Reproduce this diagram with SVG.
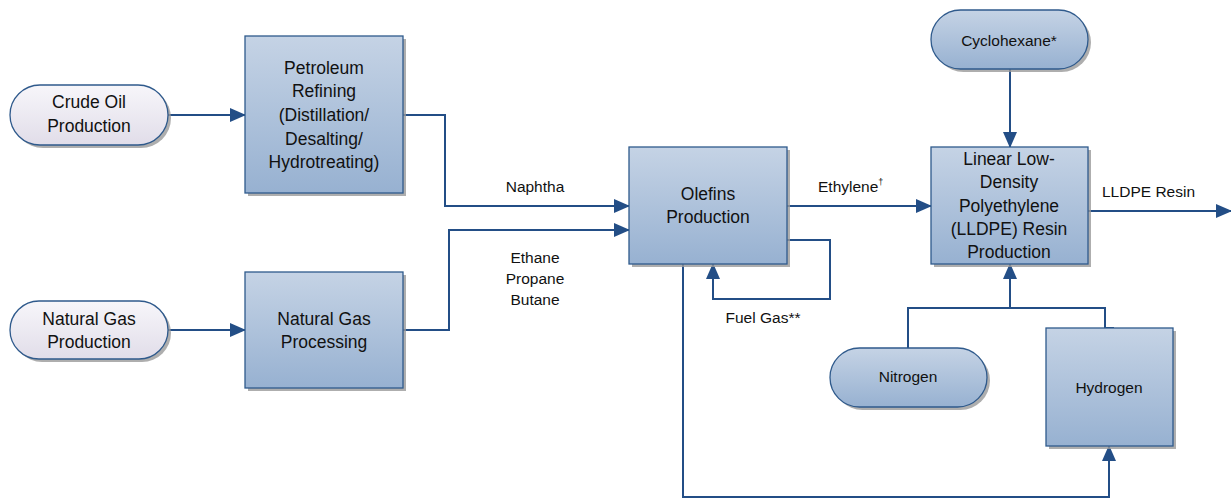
<svg xmlns="http://www.w3.org/2000/svg" width="1231" height="499" viewBox="0 0 1231 499">
<defs>
<linearGradient id="gBox" x1="0" y1="0" x2="0" y2="1">
<stop offset="0" stop-color="#c5d3e5"/>
<stop offset="1" stop-color="#97b1d1"/>
</linearGradient>
<linearGradient id="gLight" x1="0" y1="0" x2="0" y2="1">
<stop offset="0" stop-color="#f7f6fa"/>
<stop offset="1" stop-color="#e1dde9"/>
</linearGradient>
<marker id="arr" markerUnits="userSpaceOnUse" markerWidth="16" markerHeight="14" refX="15" refY="7" orient="auto">
<path d="M0,0 L16,7 L0,14 Z" fill="#234e86"/>
</marker>
</defs>
<style>
.box{fill:url(#gBox);stroke:#2f5a8c;stroke-width:1.3}
.light{fill:url(#gLight);stroke:#2f5a8c;stroke-width:1.3}
.sh{fill:#9a9a9a;opacity:0.8}
.t{font-family:"Liberation Sans",Arial,sans-serif;font-size:17.5px;fill:#111;text-anchor:middle}
.s{font-family:"Liberation Sans",Arial,sans-serif;font-size:15.5px;fill:#111;text-anchor:middle}
.c{fill:none;stroke:#234e86;stroke-width:2}
.ca{fill:none;stroke:#234e86;stroke-width:2;marker-end:url(#arr)}
</style>
<rect width="1231" height="499" fill="#fff"/>
<g id="connectors">
<path class="ca" d="M168,115 H245"/>
<path class="ca" d="M168,330 H245"/>
<path class="ca" d="M403,115 H445 V206 H629"/>
<path class="ca" d="M403,330 H449 V230 H629"/>
<path class="ca" d="M787,206 H931"/>
<path class="ca" d="M787,240 H830 V299 H713 V264"/>
<path class="ca" d="M1010,69 V147"/>
<path class="ca" d="M1088,211 H1231"/>
<path class="ca" d="M1010,308 V264"/>
<path class="c" d="M908,348 V308 H1105 V328 H1114"/>
<path class="ca" d="M683,264 V497 H1109 V446"/>
</g>
<g id="crude">
<rect class="sh" x="13" y="88" width="158" height="60" rx="30"/>
<rect class="light" x="10" y="85" width="158" height="60" rx="30"/>
<text class="t" x="89" y="108">Crude Oil</text>
<text class="t" x="89" y="132">Production</text>
</g>
<g id="refining">
<rect class="sh" x="248" y="39" width="158" height="157"/>
<rect class="box" x="245" y="36" width="158" height="157"/>
<text class="t" x="324" y="74">Petroleum</text>
<text class="t" x="324" y="97">Refining</text>
<text class="t" x="324" y="121">(Distillation/</text>
<text class="t" x="324" y="145">Desalting/</text>
<text class="t" x="324" y="168">Hydrotreating)</text>
</g>
<g id="ngprod">
<rect class="sh" x="13" y="304" width="158" height="58" rx="29"/>
<rect class="light" x="10" y="301" width="158" height="58" rx="29"/>
<text class="t" x="89" y="325">Natural Gas</text>
<text class="t" x="89" y="348">Production</text>
</g>
<g id="ngproc">
<rect class="sh" x="248" y="275" width="158" height="116"/>
<rect class="box" x="245" y="272" width="158" height="116"/>
<text class="t" x="324" y="325">Natural Gas</text>
<text class="t" x="324" y="348">Processing</text>
</g>
<g id="olefins">
<rect class="sh" x="632" y="150" width="158" height="117"/>
<rect class="box" x="629" y="147" width="158" height="117"/>
<text class="t" x="708" y="200">Olefins</text>
<text class="t" x="708" y="223">Production</text>
</g>
<g id="cyclohexane">
<rect class="sh" x="934" y="13" width="157" height="59" rx="29.5"/>
<rect class="box" x="931" y="10" width="157" height="59" rx="29.5"/>
<text class="s" x="1009" y="46">Cyclohexane*</text>
</g>
<g id="lldpe">
<rect class="sh" x="934" y="150" width="157" height="117"/>
<rect class="box" x="931" y="147" width="157" height="117"/>
<text class="t" x="1009" y="165">Linear Low-</text>
<text class="t" x="1009" y="188">Density</text>
<text class="t" x="1009" y="212">Polyethylene</text>
<text class="t" x="1009" y="235">(LLDPE) Resin</text>
<text class="t" x="1009" y="258">Production</text>
</g>
<g id="nitrogen">
<rect class="sh" x="833" y="351" width="157" height="59" rx="29.5"/>
<rect class="box" x="830" y="348" width="157" height="59" rx="29.5"/>
<text class="s" x="908" y="382">Nitrogen</text>
</g>
<g id="hydrogen">
<rect class="sh" x="1049" y="331" width="127" height="118"/>
<rect class="box" x="1046" y="328" width="127" height="118"/>
<text class="s" x="1109" y="393">Hydrogen</text>
</g>
<g id="labels">
<text class="s" x="535" y="192">Naphtha</text>
<text class="s" x="535" y="263">Ethane</text>
<text class="s" x="535" y="284">Propane</text>
<text class="s" x="535" y="305">Butane</text>
<text class="s" x="763" y="323">Fuel Gas**</text>
<text class="s" x="818" y="192" style="text-anchor:start">Ethylene<tspan font-size="9" dy="-7" fill="#111">†</tspan></text>
<text class="s" x="1102" y="197" style="text-anchor:start">LLDPE Resin</text>
</g>
</svg>
